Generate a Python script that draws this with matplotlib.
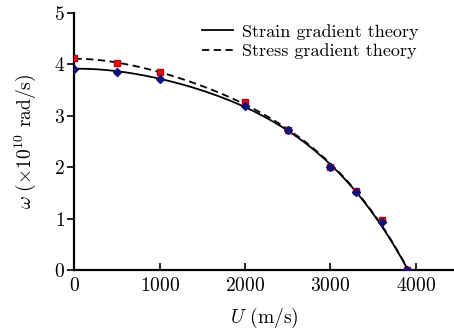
import numpy as np
import matplotlib
matplotlib.use('Agg')
import matplotlib.pyplot as plt

plt.rcParams['font.family'] = 'cmr10'
plt.rcParams['mathtext.fontset'] = 'cm'
plt.rcParams['axes.formatter.use_mathtext'] = True

U = [0, 500, 1000, 2000, 2500, 3000, 3300, 3600, 3900]
strain = [3.92, 3.86, 3.72, 3.19, 2.72, 2.00, 1.52, 0.93, 0.0]
stress = [4.12, 4.02, 3.85, 3.26, 2.73, 2.01, 1.53, 0.97, 0.0]

xticks = [0, 1000, 2000, 3000, 4000]
yticks = [0, 1, 2, 3, 4, 5]

fig = plt.figure(figsize=(4.54, 3.35), dpi=100)
ax = fig.add_axes([0.164, 0.194, 0.836, 0.767])

# smooth theory curves through the points
uu = np.linspace(0, 3900, 300)
for vals, ls, lab in [(strain, '-', 'Strain gradient theory'),
                      (stress, '--', 'Stress gradient theory')]:
    p = np.polyfit(U, vals, 4)
    ax.plot(uu, np.polyval(p, uu), color='black', ls=ls, lw=1.3, label=lab,
            dashes=(4, 2.5) if ls == '--' else (None, None))

ax.plot(U, stress, 's', color='#e0101a', ms=5, mec='#c00010', zorder=3)
ax.plot(U, strain, 'D', color='#10107a', ms=4, zorder=4)

ax.set_xlim(0, 4450)
ax.set_ylim(0, 5)
ax.set_xticks(xticks)
ax.set_yticks(yticks)
ax.spines['top'].set_visible(False)
ax.spines['right'].set_visible(False)
ax.spines['left'].set_linewidth(1.6)
ax.spines['bottom'].set_linewidth(1.6)
ax.tick_params(axis='x', direction='in', length=5, width=1.2, labelsize=14, pad=5)
ax.tick_params(axis='y', direction='out', length=5, width=1.2, labelsize=14, pad=2)

ax.set_xlabel(r'$U$ (m/s)', fontsize=14, labelpad=8)
ax.set_ylabel(r'$\omega\ (\times10^{10}$ rad/s)', fontsize=14, labelpad=11)

ax.legend(loc='upper right', frameon=False, fontsize=13, handlelength=1.7,
          handletextpad=0.5, borderaxespad=0.2, labelspacing=0.2,
          bbox_to_anchor=(0.935, 1.0))

fig.savefig('out.png', dpi=100)
